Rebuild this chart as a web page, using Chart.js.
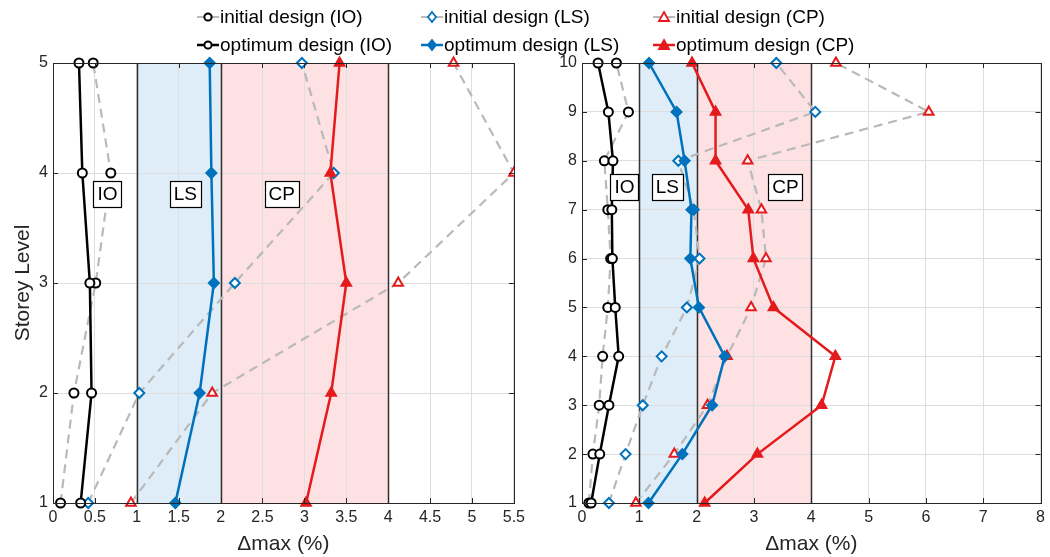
<!DOCTYPE html>
<html>
<head>
<meta charset="utf-8">
<script src="https://cdn.jsdelivr.net/npm/chart.js@4.4.0/dist/chart.umd.min.js"></script>
<style>
body { margin: 0; background: #fff; }
#wrap { position: relative; width: 1050px; height: 557px; font-family: 'Liberation Sans Narrow', 'Liberation Sans', Arial, sans-serif; }
.pane { position: absolute; top: 0; height: 557px; }
#left { left: 0; width: 530px; }
#right { left: 530px; width: 520px; }
.item { position: absolute; display: flex; align-items: center; font-size: 19px; color: #000; white-space: nowrap; line-height: 22px; }
.item svg { margin-right: 1px; }
</style>
</head>
<body>
<div id="wrap">
  <div class="pane" id="left"><canvas id="chartLeft"></canvas></div>
  <div class="pane" id="right"><canvas id="chartRight"></canvas></div>
  <div id="legend"></div>
</div>
<script>
// storey levels
const levelsLeft = [1, 2, 3, 4, 5];
const levelsRight = [1, 2, 3, 4, 5, 6, 7, 8, 9, 10];

// 5-storey frame, max drift (%)
const initIOLeft = [0.09, 0.25, 0.51, 0.69, 0.48];
const optIOLeft  = [0.33, 0.46, 0.44, 0.35, 0.31];
const initLSLeft = [0.42, 1.03, 2.17, 3.35, 2.97];
const optLSLeft  = [1.46, 1.75, 1.92, 1.89, 1.87];
const initCPLeft = [0.93, 1.90, 4.12, 5.50, 4.78];
const optCPLeft  = [3.02, 3.32, 3.50, 3.31, 3.42];

// 10-storey frame, max drift (%)
const initIORight = [0.12, 0.19, 0.30, 0.36, 0.45, 0.50, 0.45, 0.39, 0.81, 0.60];
const optIORight  = [0.16, 0.31, 0.47, 0.64, 0.58, 0.53, 0.52, 0.54, 0.46, 0.28];
const initLSRight = [0.47, 0.76, 1.06, 1.39, 1.83, 2.05, 1.95, 1.68, 4.07, 3.39];
const optLSRight  = [1.16, 1.75, 2.27, 2.49, 2.04, 1.89, 1.91, 1.79, 1.65, 1.17];
const initCPRight = [0.94, 1.61, 2.19, 2.53, 2.95, 3.21, 3.13, 2.89, 6.05, 4.43];
const optCPRight  = [2.14, 3.06, 4.18, 4.42, 3.34, 2.99, 2.90, 2.33, 2.33, 1.92];

// performance level limits (%)
const zoneEdges = [1, 2, 4];
const zoneNames = ['IO', 'LS', 'CP'];
const labelXLeft = [0.65, 1.58, 2.73];
const labelYLeft = 3.81;
const labelXRight = [0.74, 1.49, 3.55];
const labelYRight = 7.46;

const BLACK = '#000000';
const BLUE = 'rgb(0, 114, 189)';
const RED = 'rgb(228, 26, 28)';
const GRAY = 'rgb(185, 185, 185)';
const SHADE_LS = 'rgb(222, 237, 248)';
const SHADE_CP = 'rgb(253, 225, 227)';

const FONT = "'Liberation Sans Narrow', 'Liberation Sans', Arial, sans-serif";
Chart.defaults.font.family = FONT;
Chart.defaults.color = '#262626';

const seriesStyles = [
    { label: 'initial design (IO)', line: GRAY, dash: [9, 6], mark: BLACK, fill: '#ffffff', shape: 'circle', r: 4.5 },
    { label: 'initial design (LS)', line: GRAY, dash: [9, 6], mark: BLUE, fill: '#ffffff', shape: 'rectRot', r: 5 },
    { label: 'initial design (CP)', line: GRAY, dash: [9, 6], mark: RED, fill: '#ffffff', shape: 'triangle', r: 5.5 },
    { label: 'optimum design (IO)', line: BLACK, dash: [], mark: BLACK, fill: '#ffffff', shape: 'circle', r: 4.5 },
    { label: 'optimum design (LS)', line: BLUE, dash: [], mark: BLUE, fill: BLUE, shape: 'rectRot', r: 5 },
    { label: 'optimum design (CP)', line: RED, dash: [], mark: RED, fill: RED, shape: 'triangle', r: 5.5 },
];

const toPoints = (xs, levels) => xs.map((v, i) => ({ x: v, y: levels[i] }));

const buildDatasets = (valueLists, levels, clip) => valueLists.map((vals, i) => {
    const s = seriesStyles[i];
    const optimum = s.dash.length === 0;
    return {
        label: s.label,
        data: toPoints(vals, levels),
        showLine: true,
        borderColor: s.line,
        borderWidth: optimum ? 2.5 : 2.2,
        borderDash: s.dash,
        pointStyle: s.shape,
        pointRadius: s.r,
        pointBorderWidth: 2,
        pointBorderColor: s.mark,
        pointBackgroundColor: s.fill,
        order: optimum ? 1 : 2,
        clip: clip,
    };
});

const zonesPlugin = {
    id: 'zones',
    beforeDraw(chart) {
        const { ctx, chartArea: a, scales: { x } } = chart;
        const fills = [SHADE_LS, SHADE_CP];
        ctx.save();
        for (let i = 0; i < zoneEdges.length - 1; i++) {
            const x0 = x.getPixelForValue(zoneEdges[i]);
            const x1 = x.getPixelForValue(zoneEdges[i + 1]);
            ctx.fillStyle = fills[i];
            ctx.fillRect(x0, a.top, x1 - x0, a.bottom - a.top);
        }
        ctx.restore();
    },
    beforeDatasetsDraw(chart) {
        const { ctx, chartArea: a, scales: { x } } = chart;
        ctx.save();
        ctx.strokeStyle = '#333333';
        ctx.lineWidth = 1.5;
        zoneEdges.forEach((e) => {
            const px = Math.round(x.getPixelForValue(e)) + 0.5;
            ctx.beginPath();
            ctx.moveTo(px, a.top);
            ctx.lineTo(px, a.bottom);
            ctx.stroke();
        });
        ctx.restore();
    },
    afterDatasetsDraw(chart, args, opts) {
        const { ctx, chartArea: a, scales: { x, y } } = chart;
        ctx.save();
        // box frame
        ctx.strokeStyle = '#262626';
        ctx.lineWidth = 1;
        ctx.strokeRect(Math.round(a.left) + 0.5, Math.round(a.top) + 0.5,
            Math.round(a.right - a.left), Math.round(a.bottom - a.top));
        // inward ticks
        ctx.beginPath();
        x.ticks.forEach((t) => {
            const px = Math.round(x.getPixelForValue(t.value)) + 0.5;
            ctx.moveTo(px, a.bottom); ctx.lineTo(px, a.bottom - 5);
            ctx.moveTo(px, a.top); ctx.lineTo(px, a.top + 5);
        });
        y.ticks.forEach((t) => {
            const py = Math.round(y.getPixelForValue(t.value)) + 0.5;
            ctx.moveTo(a.left, py); ctx.lineTo(a.left + 5, py);
            ctx.moveTo(a.right, py); ctx.lineTo(a.right - 5, py);
        });
        ctx.stroke();
        // zone labels
        ctx.font = '19px ' + FONT;
        ctx.textAlign = 'center';
        ctx.textBaseline = 'middle';
        opts.labelX.forEach((lx, i) => {
            const cx = x.getPixelForValue(lx);
            const cy = y.getPixelForValue(opts.labelY);
            const w = ctx.measureText(zoneNames[i]).width + 8;
            const h = 26;
            ctx.fillStyle = '#ffffff';
            ctx.fillRect(cx - w / 2, cy - h / 2, w, h);
            ctx.strokeStyle = '#000000';
            ctx.lineWidth = 1.2;
            ctx.strokeRect(Math.round(cx - w / 2) + 0.5, Math.round(cy - h / 2) + 0.5, Math.round(w), h);
            ctx.fillStyle = '#000000';
            ctx.fillText(zoneNames[i], cx, cy + 1);
        });
        ctx.restore();
    }
};

const tickText = (v) => String(Number(v.toFixed(2)));

const makeConfig = (datasets, xMax, xStep, yMax, yTitle, yWidth, padding, labelX, labelY) => ({
    type: 'scatter',
    data: { datasets: datasets },
    options: {
        responsive: true,
        maintainAspectRatio: false,
        animation: false,
        layout: { padding: padding },
        plugins: {
            legend: { display: false },
            tooltip: { enabled: false },
            zones: { labelX: labelX, labelY: labelY },
        },
        scales: {
            x: {
                type: 'linear',
                min: 0, max: xMax,
                ticks: { stepSize: xStep, font: { size: 16 }, padding: 5, maxRotation: 0, callback: tickText },
                grid: { color: 'rgb(222, 222, 222)', drawTicks: false },
                border: { display: false },
                title: { display: true, text: '\u0394max (%)', font: { size: 21 }, padding: { top: 2, bottom: 0 }, color: '#262626' },
                afterFit: (s) => { s.height = 54; },
            },
            y: {
                type: 'linear',
                min: 1, max: yMax,
                ticks: { stepSize: 1, font: { size: 16 }, padding: 5, callback: tickText },
                grid: { color: 'rgb(222, 222, 222)', drawTicks: false },
                border: { display: false },
                title: { display: yTitle !== '', text: yTitle, font: { size: 21 }, padding: { top: 0, bottom: 4 }, color: '#262626' },
                afterFit: (s) => { s.width = yWidth; },
            }
        }
    },
    plugins: [zonesPlugin]
});

const clipLeft = { left: 10, top: 10, right: 0, bottom: 10 };
const clipRight = { left: 10, top: 10, right: 10, bottom: 10 };

new Chart(document.getElementById('chartLeft'), makeConfig(
    buildDatasets([initIOLeft, initLSLeft, initCPLeft, optIOLeft, optLSLeft, optCPLeft], levelsLeft, clipLeft),
    5.5, 0.5, 5, 'Storey Level', 42, { top: 63, right: 15, left: 11, bottom: 0 }, labelXLeft, labelYLeft));

new Chart(document.getElementById('chartRight'), makeConfig(
    buildDatasets([initIORight, initLSRight, initCPRight, optIORight, optLSRight, optCPRight], levelsRight, clipRight),
    8, 1, 10, '', 52, { top: 63, right: 8, left: 0, bottom: 0 }, labelXRight, labelYRight));

// legend (two rows, three columns)
const markerSvg = (s) => {
    let m = '';
    const c = 11, cy = 11;
    if (s.shape === 'circle') {
        m = `<circle cx="${c}" cy="${cy}" r="3.6" fill="${s.fill}" stroke="${s.mark}" stroke-width="2"/>`;
    } else if (s.shape === 'rectRot') {
        m = `<polygon points="${c},${cy - 5} ${c + 4},${cy} ${c},${cy + 5} ${c - 4},${cy}" fill="${s.fill}" stroke="${s.mark}" stroke-width="1.8"/>`;
    } else {
        m = `<polygon points="${c},${cy - 5} ${c + 5},${cy + 4} ${c - 5},${cy + 4}" fill="${s.fill}" stroke="${s.mark}" stroke-width="1.8"/>`;
    }
    const w = s.dash.length ? 2 : 2.5;
    return `<svg width="22" height="22"><line x1="0" y1="${cy}" x2="22" y2="${cy}" stroke="${s.line}" stroke-width="${w}"/>${m}</svg>`;
};

const legendCols = [197, 421, 653];
const legendRows = [6, 34];
const legendEl = document.getElementById('legend');
seriesStyles.forEach((s, i) => {
    const div = document.createElement('div');
    div.className = 'item';
    div.style.left = legendCols[i % 3] + 'px';
    div.style.top = legendRows[Math.floor(i / 3)] + 'px';
    div.innerHTML = markerSvg(s) + '<span>' + s.label + '</span>';
    legendEl.appendChild(div);
});
</script>
</body>
</html>
